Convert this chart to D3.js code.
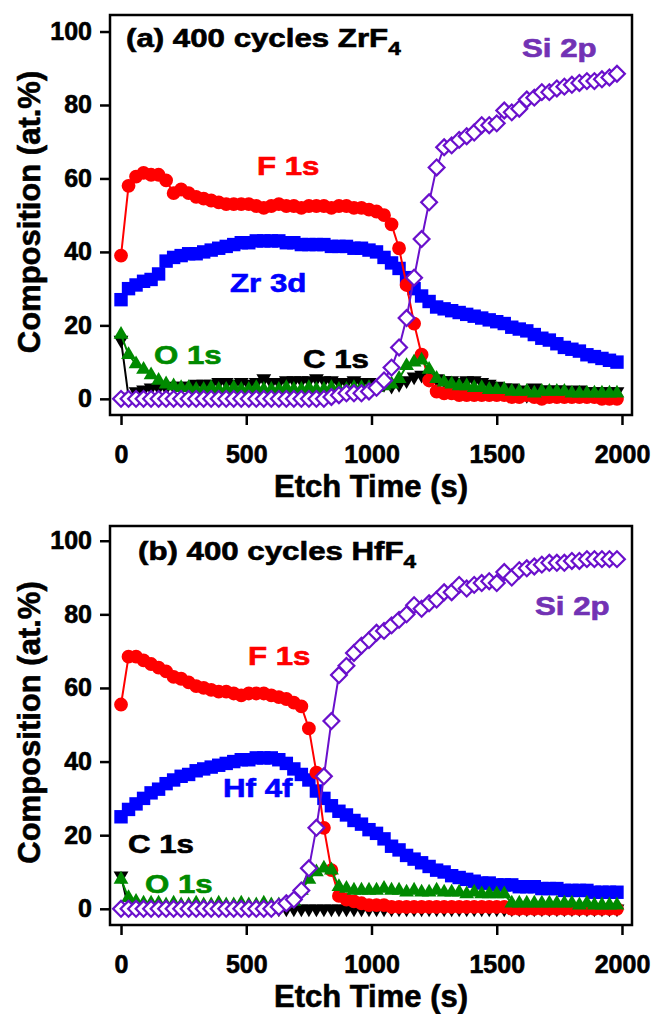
<!DOCTYPE html>
<html>
<head>
<meta charset="utf-8">
<script src="https://cdnjs.cloudflare.com/ajax/libs/d3/7.8.5/d3.min.js"></script>
<style>
  body { margin: 0; background: #fff; }
  svg { display: block; font-family: "Liberation Sans", Arial, sans-serif; font-weight: bold; }
  text { stroke-width: 0.6px; }
</style>
</head>
<body>
<svg id="chart" width="655" height="1014"></svg>
<script>
// etch time of every spectrum (s)
var etchTime = [0,30,60,90,120,150,180,210,240,270,300,330,360,390,420,450,480,510,540,570,
  600,630,660,690,720,750,780,810,840,870,900,930,960,990,1020,1050,1080,1110,1140,1170,
  1200,1230,1260,1290,1320,1350,1380,1410,1440,1470,1500,1530,1560,1590,1620,1650,1680,1710,
  1740,1770,1800,1830,1860,1890,1920,1950,1980];

var xTicks = [0, 500, 1000, 1500, 2000];
var yTicks = [0, 20, 40, 60, 80, 100];

// (a) 400 cycles ZrF4, at.%
var zrF1s = [39,58,60.5,61.5,61,61,59.5,56,57,56, 55,54.5,54,53.5,53,53,53,53,52.5,52,
  52.5,53,52.5,52.5,52,52.5,52.5,52.5,52,52.5, 52.5,52,52,51.5,51,50,47.5,41,31,20.5,
  12,5,2,1.5,1.5,1,1,1,1,1, 1,1,0.5,0.5,1,0.5,0,0.5,0.5,0.5, 0.5,0.5,0.5,0.5,0,0,0];
var zrZr3d = [27,30,31,32,32.5,34,37.5,38.5,39,39.5, 39.5,40,40.5,41,41.5,42,42.5,42.5,43,43,
  43,43,42.5,42.5,42,42,42,42,41.5,41.5, 41.5,41,41,40.5,40,38.5,37,35.5,33,30,
  28,26.5,25,24.5,24,23.5,23,22.5,22,21.5, 21,20.5,19.5,19,18.5,17.5,16.5,16,15,14,
  13.5,13,12,11.5,11,10.5,10];
var zrO1s = [17.5,12,9.5,8,6.5,5,4,3.5,3,3, 2.5,2.5,3,2.5,2.5,3,2.5,2.5,3,2.5,
  2.5,2.5,3,2.5,2.5,3,2.5,2.5,3,2.5, 2.5,3,3,3,3,3.5,4,5.5,9,10,
  10.5,8,5.5,4.5,4,3.5,3.5,3,3,2.5, 2.5,2.5,2,2,2,1.5,2,2,2,2, 1.5,1.5,1.5,1.5,1.5,1.5,1.5];
var zrC1s = [16,0.5,2,2.5,3,3,3,3.5,3.5,3.5, 4,4,4,4.5,4.5,4,4.5,4,4.5,5.5,
  4.5,4.5,5,5,5,5,5.5,5,5,4.5, 4.5,5,4.5,4.5,4,4,3.5,4,5,6,
  6.5,6,5.5,5,5,4.5,5,5,4.5,4, 3.5,3,3,2.5,1,3,2.5,2.5,2.5,2.5, 2,2.5,2,2,2,2,2];
var zrSi2p = [0,0,0,0,0,0,0,0,0,0, 0,0,0,0,0,0,0,0,0,0, 0,0,0,0,0,0,0,0,
  0.5,1,1.5,1.5,1.5,2,3,5,8.5,14, 22,33,43.5,53.5,63,68.5,69,70.5,71.5,72.5,
  74.5,74.5,75,78.5,78,79,81.5,82,83.5,83.5, 84.5,85,85.5,86,86.5,86.5,87,87.5,88.5];

// (b) 400 cycles HfF4, at.%
var hfF1s = [55.5,68.5,68.5,67.5,66.5,65.5,64.5,63,62.5,61.5, 60.5,60,59.5,59,59,58.5,58,58.5,58.5,58.5,
  58,57.5,57,56,55,49,37,22,10.5,3.5, 2.5,2,1.5,1,1,1,0.5,0.5,0.5,0.5,
  0.5,0.5,0.5,0.5,0.5,0.5,0.5,0.5,0.5,0.5, 0.5,0.5,0,0,0,0,0,0,0,0, 0,0,0,0,0,0,0];
var hfHf4f = [25,27,28.5,30,31.5,32.5,34,35,36,36.5, 37.5,38,38.5,39,39.5,40,40.5,40.5,41,41,
  41,40.5,39.5,38,36.5,35,32,30,28,26.5, 25.5,24,23,21.5,20.5,19,17,16,14.5,13.5,
  12.5,11.5,10.5,10,9,8.5,8,7.5,7,7, 6.5,6.5,6.5,6,6,6,5.5,5.5,5.5,5, 5,5,5,4.5,4.5,4.5,4.5];
var hfO1s = [8,3,2,1.5,1.5,1.5,1,1.5,1,1, 1.5,1,1,1.5,1,1,1.5,1,1,1.5,
  1,1,1.5,2,5,8,10,11,10.5,6, 5.5,5,5,5,5,5.5,5,5,4.5,5,
  4.5,4.5,5,4.5,4.5,4.5,4,4.5,4,4, 4,4,1.5,1.5,1.5,1.5,1.5,1.5,1.5,1.5, 1.5,1,1.5,1,1,1,1];
var hfC1s = [9,0,0,0,0,0,0,0,0,0, 0,0,0,0,0,0,0,0,0,0, 0,0,0,0,0,0,0,0,0,0,
  0,0,0,0,0,0,0,0,0,0, 0,0,0,0,0,0,0,0,0,0, 0,0,0,0,0,0,0,0,0,0, 0,0,0,0,0,0,0];
var hfSi2p = [0,0,0,0,0,0,0,0,0,0, 0,0,0,0,0,0,0,0,0,0, 0,
  0.5,1.5,2.5,5,11,22,36,51, 63.5,66,69.5,71.5,73,75,75.5,77,78.5,80,
  82.5,81.5,83,84,86,86,88,87,88,88.5, 89,88.5,91.5,90,92,92.5,93,93.5,94,94,
  94,94.5,94.5,95,95,95,95,95];

var RED = "#ff0000", BLUE = "#0000ff", GREEN = "#008a00", PURPLE = "#6a10cc";

// marker shapes
var markers = {
  circle:   { path: d3.symbol(d3.symbolCircle, 150)(),   rot: 0,  fill: true },
  square:   { path: d3.symbol(d3.symbolSquare, 180)(),   rot: 0,  fill: true },
  triUp:    { path: d3.symbol(d3.symbolTriangle, 95)(),  rot: 0,  fill: true },
  triDown:  { path: d3.symbol(d3.symbolTriangle, 95)(),  rot: 180, fill: true },
  diamond:  { path: d3.symbol(d3.symbolSquare, 125)(),   rot: 45, fill: false }
};

// draw order = stacking order (last on top)
var panels = [
  { top: 15, bottom: 415, yMax: 104.5,
    title: ["(a) 400 cycles ZrF", "4"], titleAt: [126, 47],
    series: [
      { values: zrZr3d, color: BLUE,   marker: "square",  name: "Zr 3d", at: [230, 292] },
      { values: zrC1s,  color: "#000", marker: "triDown", name: "C 1s",  at: [303, 368] },
      { values: zrF1s,  color: RED,    marker: "circle",  name: "F 1s",  at: [257, 175] },
      { values: zrO1s,  color: GREEN,  marker: "triUp",   name: "O 1s",  at: [154, 364] },
      { values: zrSi2p, color: PURPLE, marker: "diamond", name: "Si 2p", at: [522, 57], text: "#7232b4" }
    ] },
  { top: 526, bottom: 925, yMax: 104,
    title: ["(b) 400 cycles HfF", "4"], titleAt: [138, 560],
    series: [
      { values: hfHf4f, color: BLUE,   marker: "square",  name: "Hf 4f", at: [223, 797] },
      { values: hfC1s,  color: "#000", marker: "triDown", name: "C 1s",  at: [128, 853] },
      { values: hfF1s,  color: RED,    marker: "circle",  name: "F 1s",  at: [248, 665] },
      { values: hfO1s,  color: GREEN,  marker: "triUp",   name: "O 1s",  at: [145, 893] },
      { values: hfSi2p, color: PURPLE, marker: "diamond", name: "Si 2p", at: [535, 615], text: "#7232b4" }
    ] }
];

var svg = d3.select("#chart");
var x = d3.scaleLinear().domain([-44, 2040]).range([110, 632]);

function label(g, txt, px, py, color, sub) {
  var t = g.append("text")
      .attr("transform", "translate(" + px + "," + py + ") scale(1.25,1)")
      .attr("font-size", 25)
      .attr("fill", color)
      .attr("stroke", color)
      .text(txt);
  if (sub) t.append("tspan").attr("font-size", 18).attr("dy", 8).text(sub);
}

function styleAxis(g) {
  g.attr("font-family", null).attr("font-size", 25);
  g.select(".domain").remove();
  g.selectAll(".tick line").attr("stroke", "#000").attr("stroke-width", 2.5);
  g.selectAll(".tick text").attr("fill", "#000").attr("stroke", "#000");
}

panels.forEach(function(p) {
  var y = d3.scaleLinear().domain([-4.4, p.yMax]).range([p.bottom, p.top]);
  var g = svg.append("g");

  g.append("g")
      .attr("transform", "translate(0," + p.bottom + ")")
      .call(d3.axisBottom(x).tickValues(xTicks).tickSize(10).tickPadding(20).tickFormat(d3.format("d")))
      .call(styleAxis);

  g.append("g")
      .attr("transform", "translate(110,0)")
      .call(d3.axisLeft(y).tickValues(yTicks).tickSize(10).tickPadding(8))
      .call(styleAxis);

  var plot = g.append("g");
  p.series.forEach(function(s) {
    var pts = etchTime.map(function(t, i) { return [t, s.values[i]]; });
    var m = markers[s.marker];

    plot.append("path")
        .datum(pts)
        .attr("fill", "none")
        .attr("stroke", s.color)
        .attr("stroke-width", 2)
        .attr("d", d3.line().x(function(d) { return x(d[0]); }).y(function(d) { return y(d[1]); }));

    plot.selectAll(null)
        .data(pts)
      .enter().append("path")
        .attr("d", m.path)
        .attr("transform", function(d) {
          return "translate(" + x(d[0]) + "," + y(d[1]) + ") rotate(" + m.rot + ")";
        })
        .attr("fill", m.fill ? s.color : "#fff")
        .attr("stroke", m.fill ? "none" : s.color)
        .attr("stroke-width", m.fill ? 0 : 2.2);

    label(g, s.name, s.at[0], s.at[1], s.text || s.color);
  });

  // frame
  g.append("rect")
      .attr("x", 110).attr("y", p.top)
      .attr("width", 522).attr("height", p.bottom - p.top)
      .attr("fill", "none").attr("stroke", "#000").attr("stroke-width", 2.5);

  label(g, p.title[0], p.titleAt[0], p.titleAt[1], "#000", p.title[1]);

  g.append("text")
      .attr("x", 371).attr("y", p.bottom + 82)
      .attr("text-anchor", "middle")
      .attr("font-size", 31)
      .attr("stroke", "#000")
      .text("Etch Time (s)");

  g.append("text")
      .attr("transform", "translate(40," + ((p.top + p.bottom) / 2 - 3) + ") rotate(-90)")
      .attr("text-anchor", "middle")
      .attr("font-size", 31)
      .attr("stroke", "#000")
      .text("Composition (at.%)");
});
</script>
</body>
</html>
